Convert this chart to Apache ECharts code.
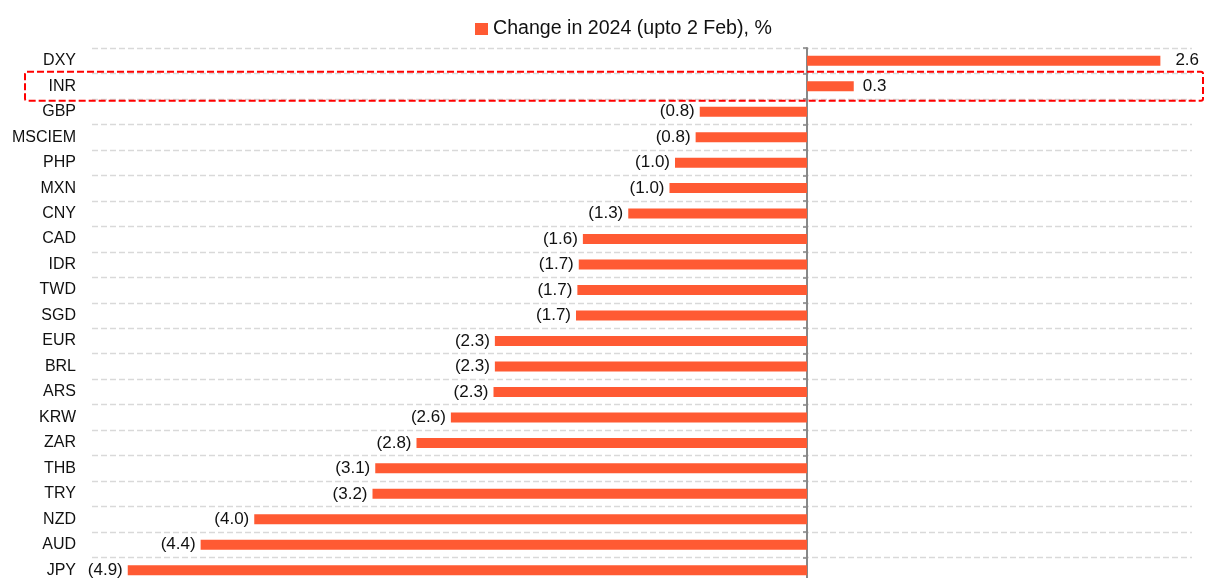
<!DOCTYPE html>
<html>
<head>
<meta charset="utf-8">
<script src="https://cdn.jsdelivr.net/npm/echarts@6/dist/echarts.min.js"></script>
<style>html,body{margin:0;padding:0;background:#fff}#c{width:1209px;height:578px}</style>
</head>
<body>
<div id="c"></div>
<script>
var categories = ['DXY','INR','GBP','MSCIEM','PHP','MXN','CNY','CAD','IDR','TWD','SGD','EUR','BRL','ARS','KRW','ZAR','THB','TRY','NZD','AUD','JPY'];
var changes = [2.57, 0.34, -0.78, -0.81, -0.96, -1.00, -1.30, -1.63, -1.66, -1.67, -1.68, -2.27, -2.27, -2.28, -2.59, -2.84, -3.14, -3.16, -4.02, -4.41, -4.94];
var seriesName = 'Change in 2024 (upto 2 Feb), %';
var highlighted = 'INR';

var FONT = '"Liberation Sans", Arial, sans-serif';
var chart = echarts.init(document.getElementById('c'));

function fmt(v) {
  return v < 0 ? '(' + Math.abs(v).toFixed(1) + ')' : v.toFixed(1);
}

var data = changes.map(function (v, i) {
  return {
    value: v,
    label: {
      position: v < 0 ? 'left' : 'right',
      distance: v < 0 ? 5 : (i === 0 ? 15 : 9)
    }
  };
});

chart.setOption({
  animation: false,
  textStyle: { fontFamily: FONT },
  legend: {
    top: 14,
    left: 470,
    itemWidth: 13,
    itemHeight: 12,
    icon: 'rect',
    textStyle: { fontSize: 19.6, color: '#111', fontFamily: FONT },
    data: [seriesName]
  },
  grid: { left: 92, top: 48, width: 1100, height: 535, containLabel: false, outerBoundsMode: 'none' },
  xAxis: {
    type: 'value',
    min: -5.2,
    max: 2.8,
    show: false
  },
  yAxis: [{
    type: 'category',
    data: categories,
    inverse: true,
    axisLine: { show: false, onZero: false },
    axisTick: { show: false },
    axisLabel: { fontSize: 16, color: '#111', margin: 16, fontFamily: FONT },
    splitLine: { show: true, lineStyle: { color: '#d9d9d9', width: 1.3, type: [6, 3] } }
  }, {
    type: 'category',
    data: categories,
    inverse: true,
    position: 'left',
    axisLine: { show: true, onZero: true, lineStyle: { color: '#888', width: 2 } },
    axisTick: { show: true, length: 4, lineStyle: { color: '#888', width: 1.5 } },
    axisLabel: { show: false },
    splitLine: { show: false }
  }],
  series: [{
    name: seriesName,
    type: 'bar',
    yAxisIndex: 0,
    barWidth: 10,
    itemStyle: { color: '#FF5A33' },
    label: {
      show: true,
      fontSize: 17,
      color: '#111',
      fontFamily: FONT,
      formatter: function (p) { return fmt(p.value); }
    },
    data: data
  }]
});

var idx = categories.indexOf(highlighted);
var cy = chart.convertToPixel({ yAxisIndex: 0 }, idx);
chart.setOption({
  graphic: [{
    type: 'rect',
    shape: { x: 25, y: cy - 14.5, width: 1178, height: 29, r: 2 },
    style: { fill: 'none', stroke: '#FF0000', lineWidth: 2, lineDash: [7, 3] },
    z: 100
  }]
});
</script>
</body>
</html>
